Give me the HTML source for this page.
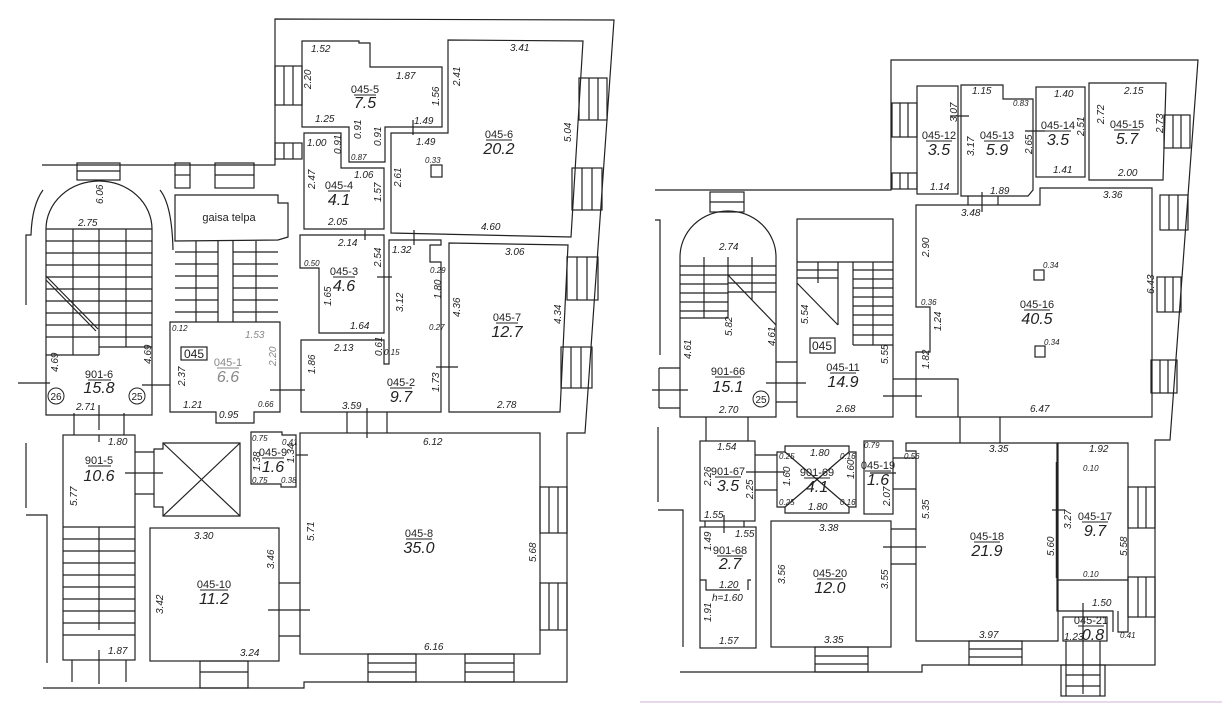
<!DOCTYPE html>
<html><head><meta charset="utf-8"><style>
html,body{margin:0;padding:0;background:#fff;}
svg{display:block;}
text{font-family:"Liberation Sans",sans-serif;fill:#222;}
.d{font-size:10px;font-style:italic;}
.s{font-size:8px;font-style:italic;}
.c{font-size:11px;text-anchor:middle;}
.a{font-size:16px;font-style:italic;text-anchor:middle;}
.g{fill:#888;}
</style></head><body>
<svg width="1222" height="703" viewBox="0 0 1222 703" xmlns="http://www.w3.org/2000/svg">
<g fill="none" stroke="#222" stroke-width="1.2">
<polyline points="42,165 275,165 275,19 614,20 585,433 567,433 567,682 304,682 304,688 43,688"/>
<path d="M43,190 Q32,205 31,235 L26,235 L26,305"/>
<path d="M160,190 Q172,205 173,250"/>
<polyline points="26,443 26,508"/>
<polyline points="26,515 47,515 47,663"/>
<path d="M46,415 L46,229 A53,48 0 0 1 152,229 L152,415 Z"/>
<line x1="46" y1="229" x2="152" y2="229"/>
<line x1="99" y1="229" x2="99" y2="355"/>
<line x1="126" y1="229" x2="126" y2="347"/>
<line x1="73" y1="229" x2="73" y2="355"/>
<path d="M46,241H99M46,253H99M46,265H99M46,277H99M46,289H99M46,301H99M46,313H99M46,325H99M46,337H99M46,355H99"/>
<path d="M99,241H152M99,253H152M99,265H152M99,277H152M99,289H152M99,301H152M99,313H152M99,325H152M99,337H152M99,347H152"/>
<line x1="46" y1="276" x2="98" y2="329"/><line x1="46" y1="280" x2="96" y2="331"/>
<rect x="77" y="163" width="43" height="17"/>
<line x1="77" y1="171" x2="120" y2="171"/>
<rect x="175" y="163" width="15" height="25"/><line x1="175" y1="175" x2="190" y2="175"/>
<rect x="215" y="163" width="39" height="25"/><line x1="215" y1="175" x2="254" y2="175"/>
<polygon points="175,195 278,195 278,203 288,203 288,237 278,240 175,241"/>
<path d="M175,252H218M175,264H218M175,276H218M175,288H218M175,300H218M175,312H218"/>
<line x1="196" y1="241" x2="196" y2="322"/>
<line x1="218" y1="241" x2="218" y2="322"/><line x1="233" y1="241" x2="233" y2="322"/>
<path d="M233,252H278M233,264H278M233,276H278M233,288H278M233,300H278M233,312H278"/>
<line x1="256" y1="241" x2="256" y2="322"/>
<polygon points="170,322 280,322 280,412 254,412 254,423 216,423 216,412 170,412"/>
<rect x="181" y="347" width="26" height="13"/>
<polygon points="302,41 359,41 359,43 370,43 370,67 442,67 442,127 385,127 385,162 349,162 349,127 302,127"/>
<rect x="275" y="66" width="27" height="39"/><line x1="284" y1="66" x2="284" y2="105"/><line x1="293" y1="66" x2="293" y2="105"/>
<rect x="275" y="143" width="27" height="16"/><line x1="284" y1="143" x2="284" y2="159"/><line x1="293" y1="143" x2="293" y2="159"/>
<polygon points="448,40 583,41 571,237 391,233 391,133 448,133"/>
<rect x="431" y="165" width="11" height="12"/>
<rect x="579" y="78" width="28" height="42"/><line x1="589" y1="78" x2="589" y2="120"/><line x1="598" y1="78" x2="598" y2="120"/>
<rect x="572" y="168" width="30" height="42"/><line x1="582" y1="168" x2="582" y2="210"/><line x1="592" y1="168" x2="592" y2="210"/>
<polygon points="304,133 341,133 341,168 384,168 384,229 304,229"/>
<polygon points="300,235 384,235 384,333 319,333 319,268 300,268"/>
<polygon points="389,240 441,240 441,245 430,245 430,262 441,262 441,412 301,412 301,340 384,340 384,364 389,364"/>
<polygon points="449,243 568,245 560,412 449,412"/>
<rect x="567" y="257" width="31" height="43"/><line x1="577" y1="257" x2="577" y2="300"/><line x1="587" y1="257" x2="587" y2="300"/>
<rect x="561" y="347" width="31" height="41"/><line x1="571" y1="347" x2="571" y2="388"/><line x1="581" y1="347" x2="581" y2="388"/>
<line x1="365" y1="230" x2="365" y2="240"/><line x1="377" y1="277" x2="392" y2="277"/>
<line x1="413" y1="120" x2="413" y2="135"/><line x1="414" y1="230" x2="414" y2="245"/>
<line x1="436" y1="367" x2="458" y2="367"/><line x1="270" y1="390" x2="305" y2="390"/>
<line x1="142" y1="385" x2="170" y2="385"/><line x1="18" y1="383" x2="50" y2="383"/>
<line x1="99" y1="405" x2="99" y2="430"/>
<line x1="347" y1="412" x2="347" y2="433"/><line x1="387" y1="412" x2="387" y2="433"/><line x1="367" y1="408" x2="367" y2="438"/>
<line x1="74" y1="413" x2="74" y2="435"/><line x1="124" y1="413" x2="124" y2="435"/>
<rect x="63" y="435" width="72" height="225"/>
<path d="M63,527H135M63,539H135M63,551H135M63,563H135M63,575H135M63,587H135M63,599H135M63,611H135M63,623H135M63,635H135"/>
<line x1="99" y1="527" x2="99" y2="630"/><line x1="99" y1="650" x2="99" y2="684"/><line x1="99" y1="435" x2="99" y2="442"/>
<line x1="72" y1="660" x2="72" y2="682"/><line x1="126" y1="660" x2="126" y2="682"/>
<polygon points="163,443 240,443 240,452 240,507 240,516 163,516 163,507 154,507 154,449 163,449"/>
<line x1="163" y1="443" x2="240" y2="516"/><line x1="240" y1="443" x2="163" y2="516"/>
<line x1="135" y1="452" x2="154" y2="452"/><line x1="135" y1="494" x2="154" y2="494"/><line x1="125" y1="473" x2="163" y2="473"/>
<polygon points="251,432 282,432 282,435 296,435 296,487 281,487 281,484 251,484"/>
<line x1="296" y1="455" x2="308" y2="455"/>
<rect x="150" y="528" width="129" height="133"/>
<rect x="200" y="661" width="48" height="27"/><line x1="200" y1="672" x2="248" y2="672"/>
<line x1="279" y1="583" x2="300" y2="583"/><line x1="279" y1="636" x2="300" y2="636"/><line x1="268" y1="610" x2="310" y2="610"/>
<rect x="300" y="433" width="240" height="221"/>
<rect x="540" y="487" width="27" height="46"/><line x1="549" y1="487" x2="549" y2="533"/><line x1="558" y1="487" x2="558" y2="533"/>
<rect x="540" y="583" width="27" height="47"/><line x1="549" y1="583" x2="549" y2="630"/><line x1="558" y1="583" x2="558" y2="630"/>
<rect x="368" y="654" width="48" height="28"/><line x1="368" y1="663" x2="416" y2="663"/><line x1="368" y1="672" x2="416" y2="672"/>
<rect x="465" y="654" width="49" height="28"/><line x1="465" y1="663" x2="514" y2="663"/><line x1="465" y1="672" x2="514" y2="672"/>

<polyline points="655,190 891,190 891,60 1198,60 1170,440 1155,440 1155,665 922,665 922,672 680,672"/>
<polyline points="655,220 660,220 660,355"/>
<polyline points="658,427 658,502"/><polyline points="658,510 683,510 683,647"/>
<rect x="917" y="86" width="41" height="108"/>
<rect x="892" y="103" width="25" height="34"/><line x1="900" y1="103" x2="900" y2="137"/><line x1="908" y1="103" x2="908" y2="137"/>
<rect x="892" y="173" width="25" height="16"/><line x1="900" y1="173" x2="900" y2="189"/><line x1="908" y1="173" x2="908" y2="189"/>
<polygon points="961,85 1003,85 1003,99 1033,99 1033,190 1028,196 961,196"/>
<rect x="1036" y="87" width="49" height="90"/>
<polygon points="1089,83 1166,83 1163,180 1089,180"/>
<rect x="1164" y="115" width="26" height="33"/><line x1="1173" y1="115" x2="1173" y2="148"/><line x1="1181" y1="115" x2="1181" y2="148"/>
<line x1="950" y1="116" x2="969" y2="116"/><line x1="1025" y1="131" x2="1045" y2="131"/>
<line x1="968" y1="196" x2="968" y2="205"/><line x1="998" y1="196" x2="998" y2="205"/><line x1="982" y1="192" x2="982" y2="212"/>
<polygon points="916,205 1040,205 1040,188 1152,188 1152,417 916,417 916,352 930,352 930,307 916,307"/>
<rect x="1034" y="270" width="10" height="10"/><rect x="1035" y="346" width="10" height="11"/>
<rect x="1160" y="195" width="28" height="35"/><line x1="1169" y1="195" x2="1169" y2="230"/><line x1="1178" y1="195" x2="1178" y2="230"/>
<rect x="1157" y="277" width="24" height="35"/><line x1="1165" y1="277" x2="1165" y2="312"/><line x1="1173" y1="277" x2="1173" y2="312"/>
<rect x="1151" y="360" width="26" height="33"/><line x1="1160" y1="360" x2="1160" y2="393"/><line x1="1168" y1="360" x2="1168" y2="393"/>
<path d="M680,417 L680,257 A48,46 0 0 1 776,257 L776,417 Z"/>
<rect x="710" y="192" width="34" height="20"/><line x1="710" y1="202" x2="744" y2="202"/>
<path d="M680,266H728M680,275H728M680,284H728M680,293H728M680,302H728M680,311H728M680,318H728"/>
<line x1="728" y1="257" x2="728" y2="318"/><line x1="704" y1="257" x2="704" y2="318"/>
<path d="M728,266H776M728,275H776M728,283H776M728,292H776"/>
<line x1="752" y1="257" x2="752" y2="300"/>
<line x1="728" y1="275" x2="776" y2="325"/>
<line x1="652" y1="390" x2="688" y2="390"/><line x1="659" y1="368" x2="680" y2="368"/><line x1="659" y1="408" x2="680" y2="408"/>
<line x1="659" y1="368" x2="659" y2="408"/>
<rect x="797" y="219" width="96" height="198"/>
<line x1="797" y1="262" x2="853" y2="262"/>
<path d="M797,270H838M797,278H838"/><line x1="838" y1="262" x2="838" y2="325"/>
<line x1="818" y1="262" x2="818" y2="283"/>
<line x1="797" y1="283" x2="838" y2="325"/>
<line x1="853" y1="262" x2="853" y2="345"/><line x1="853" y1="345" x2="893" y2="345"/>
<path d="M853,262H893M853,270H893M853,279H893M853,288H893M853,297H893M853,306H893M853,315H893M853,325H893M853,335H893"/>
<line x1="873" y1="262" x2="873" y2="345"/>
<rect x="810" y="338" width="25" height="15"/>
<line x1="776" y1="362" x2="797" y2="362"/><line x1="776" y1="402" x2="797" y2="402"/><line x1="766" y1="383" x2="806" y2="383"/>
<polyline points="893,379 958,379 958,417"/><line x1="883" y1="396" x2="922" y2="396"/>
<line x1="706" y1="417" x2="706" y2="441"/><line x1="748" y1="417" x2="748" y2="441"/>
<line x1="960" y1="417" x2="960" y2="443"/><line x1="1000" y1="417" x2="1000" y2="443"/>
<rect x="700" y="441" width="55" height="80"/>
<rect x="700" y="527" width="56" height="121"/>
<line x1="705" y1="521" x2="705" y2="527"/><line x1="744" y1="521" x2="744" y2="527"/><line x1="724" y1="515" x2="724" y2="533"/>
<polyline points="700,580 706,580 706,590 740,590"/><polyline points="751,580 748,580 748,590"/>
<polygon points="785,446 849,446 849,452 856,452 856,507 849,507 849,513 785,513 785,507 777,507 777,452 785,452"/>
<line x1="785" y1="452" x2="849" y2="507"/><line x1="849" y1="452" x2="785" y2="507"/>
<line x1="755" y1="455" x2="777" y2="455"/><line x1="755" y1="490" x2="777" y2="490"/><line x1="746" y1="472" x2="785" y2="472"/>
<rect x="864" y="441" width="29" height="73"/>
<line x1="893" y1="458" x2="916" y2="458"/><line x1="893" y1="489" x2="916" y2="489"/><line x1="870" y1="473" x2="896" y2="473"/>
<rect x="771" y="521" width="120" height="126"/>
<line x1="891" y1="529" x2="916" y2="529"/><line x1="891" y1="564" x2="916" y2="564"/><line x1="883" y1="547" x2="926" y2="547"/>
<rect x="815" y="647" width="53" height="25"/><line x1="815" y1="656" x2="868" y2="656"/><line x1="815" y1="664" x2="868" y2="664"/>
<polygon points="906,443 1058,443 1058,641 916,641 916,451 906,451"/>
<rect x="969" y="641" width="53" height="24"/><line x1="969" y1="649" x2="1022" y2="649"/><line x1="969" y1="657" x2="1022" y2="657"/>
<polygon points="1057,443 1128,443 1128,580 1057,580"/>
<line x1="1057" y1="462" x2="1057" y2="578" stroke-width="2.5"/><line x1="1052" y1="510" x2="1065" y2="510"/>
<rect x="1128" y="487" width="27" height="41"/><line x1="1138" y1="487" x2="1138" y2="528"/><line x1="1146" y1="487" x2="1146" y2="528"/>
<rect x="1128" y="577" width="27" height="40"/><line x1="1138" y1="577" x2="1138" y2="617"/><line x1="1146" y1="577" x2="1146" y2="617"/>
<polyline points="1057,580 1057,611 1113,611 1113,632"/>
<polyline points="1118,611 1118,632 1128,632 1128,580"/>
<rect x="1063" y="617" width="44" height="24"/>
<rect x="1061" y="665" width="44" height="31"/><line x1="1066" y1="641" x2="1066" y2="696"/><line x1="1100" y1="641" x2="1100" y2="696"/>
<line x1="1066" y1="675" x2="1100" y2="675"/><line x1="1066" y1="686" x2="1100" y2="686"/>
<line x1="1083" y1="603" x2="1083" y2="694"/>
</g>
<line x1="640" y1="702" x2="1222" y2="702" stroke="#e8d8ec" stroke-width="2"/>
<g stroke="#222" fill="none">
<circle cx="56" cy="396" r="8"/><circle cx="137" cy="396" r="8"/><circle cx="761" cy="399" r="8"/>
</g>
<g stroke="#222" stroke-width="1">
<line x1="354" y1="95" x2="376" y2="95"/><line x1="486" y1="140" x2="512" y2="140"/><line x1="328" y1="191" x2="350" y2="191"/>
<line x1="333" y1="277" x2="355" y2="277"/><line x1="390" y1="388" x2="412" y2="388"/><line x1="496" y1="323" x2="518" y2="323"/>
<line x1="217" y1="368" x2="239" y2="368" stroke="#888"/><line x1="88" y1="380" x2="111" y2="380"/><line x1="88" y1="466" x2="111" y2="466"/>
<line x1="262" y1="458" x2="284" y2="458"/><line x1="200" y1="590" x2="228" y2="590"/><line x1="406" y1="539" x2="432" y2="539"/>
<line x1="926" y1="141" x2="952" y2="141"/><line x1="984" y1="141" x2="1010" y2="141"/><line x1="1045" y1="131" x2="1071" y2="131"/>
<line x1="1114" y1="130" x2="1140" y2="130"/><line x1="1024" y1="310" x2="1050" y2="310"/><line x1="715" y1="377" x2="741" y2="377"/>
<line x1="830" y1="373" x2="856" y2="373"/><line x1="715" y1="477" x2="741" y2="477"/><line x1="804" y1="478" x2="830" y2="478"/>
<line x1="865" y1="471" x2="891" y2="471"/><line x1="717" y1="556" x2="743" y2="556"/><line x1="817" y1="579" x2="843" y2="579"/>
<line x1="974" y1="542" x2="1000" y2="542"/><line x1="1082" y1="522" x2="1108" y2="522"/><line x1="1078" y1="626" x2="1104" y2="626"/>
</g>
<text class="c" x="365" y="93">045-5</text><text class="a" x="365" y="108">7.5</text>
<text class="c" x="499" y="138">045-6</text><text class="a" x="499" y="154">20.2</text>
<text class="c" x="339" y="189">045-4</text><text class="a" x="339" y="205">4.1</text>
<text class="c" x="344" y="275">045-3</text><text class="a" x="344" y="291">4.6</text>
<text class="c" x="401" y="386">045-2</text><text class="a" x="401" y="402">9.7</text>
<text class="c" x="507" y="321">045-7</text><text class="a" x="507" y="337">12.7</text>
<text class="c g" x="228" y="366">045-1</text><text class="a g" x="228" y="382">6.6</text>
<text class="c" x="99" y="378">901-6</text><text class="a" x="99" y="393">15.8</text>
<text class="c" x="194" y="358" style="font-size:12px">045</text>
<text class="c" x="56" y="400" style="font-size:10px">26</text><text class="c" x="137" y="400" style="font-size:10px">25</text>
<text class="c" x="229" y="221" style="font-size:11px">gaisa telpa</text>
<text class="c" x="99" y="464">901-5</text><text class="a" x="99" y="481">10.6</text>
<text class="c" x="273" y="456">045-9</text><text class="a" x="273" y="472">1.6</text>
<text class="c" x="419" y="537">045-8</text><text class="a" x="419" y="553">35.0</text>
<text class="c" x="214" y="588">045-10</text><text class="a" x="214" y="604">11.2</text>
<g class="d">
<text x="311" y="52">1.52</text><text x="396" y="79">1.87</text><text x="315" y="122">1.25</text><text x="414" y="124">1.49</text>
<text x="416" y="145">1.49</text><text x="307" y="146">1.00</text><text x="354" y="178">1.06</text><text x="328" y="225">2.05</text>
<text x="338" y="246">2.14</text><text x="510" y="51">3.41</text><text x="481" y="230">4.60</text><text x="505" y="255">3.06</text>
<text x="497" y="408">2.78</text><text x="392" y="253">1.32</text><text x="350" y="329">1.64</text><text x="334" y="351">2.13</text>
<text x="342" y="409">3.59</text><text x="78" y="226">2.75</text><text x="76" y="410">2.71</text><text x="183" y="408">1.21</text>
<text x="219" y="418">0.95</text><text x="108" y="445">1.80</text><text x="423" y="445">6.12</text><text x="194" y="539">3.30</text>
<text x="240" y="656">3.24</text><text x="108" y="654">1.87</text><text x="424" y="650">6.16</text>
<text class="g" x="245" y="338">1.53</text>
</g>
<g class="s">
<text x="425" y="163">0.33</text><text x="351" y="160">0.87</text><text x="258" y="407">0.66</text><text x="172" y="331">0.12</text>
<text x="304" y="266">0.50</text><text x="384" y="355">0.15</text><text x="430" y="273">0.29</text><text x="429" y="330">0.27</text>
<text x="252" y="441">0.75</text><text x="252" y="483">0.75</text><text x="281" y="483">0.38</text><text x="282" y="445">0.41</text>
</g>
<g class="d">
<text transform="translate(311,89) rotate(-90)">2.20</text>
<text transform="translate(439,106) rotate(-90)">1.56</text>
<text transform="translate(361,139) rotate(-90)">0.91</text>
<text transform="translate(381,146) rotate(-90)">0.91</text>
<text transform="translate(341,154) rotate(-90)">0.91</text>
<text transform="translate(315,189) rotate(-90)">2.47</text>
<text transform="translate(381,202) rotate(-90)">1.57</text>
<text transform="translate(401,187) rotate(-90)">2.61</text>
<text transform="translate(460,86) rotate(-90)">2.41</text>
<text transform="translate(571,142) rotate(-90)">5.04</text>
<text transform="translate(460,317) rotate(-90)">4.36</text>
<text transform="translate(561,324) rotate(-90)">4.34</text>
<text transform="translate(381,267) rotate(-90)">2.54</text>
<text transform="translate(403,312) rotate(-90)">3.12</text>
<text transform="translate(441,299) rotate(-90)">1.80</text>
<text transform="translate(331,306) rotate(-90)">1.65</text>
<text transform="translate(315,374) rotate(-90)">1.86</text>
<text transform="translate(439,392) rotate(-90)">1.73</text>
<text transform="translate(103,204) rotate(-90)">6.06</text>
<text transform="translate(58,372) rotate(-90)">4.69</text>
<text transform="translate(151,364) rotate(-90)">4.69</text>
<text transform="translate(185,386) rotate(-90)">2.37</text>
<text class="g" transform="translate(276,366) rotate(-90)">2.20</text>
<text transform="translate(77,506) rotate(-90)">5.77</text>
<text transform="translate(260,471) rotate(-90)">1.38</text>
<text transform="translate(294,463) rotate(-90)">1.34</text>
<text transform="translate(314,541) rotate(-90)">5.71</text>
<text transform="translate(536,562) rotate(-90)">5.68</text>
<text transform="translate(274,569) rotate(-90)">3.46</text>
<text transform="translate(163,614) rotate(-90)">3.42</text>
<text transform="translate(382,356) rotate(-90)">0.61</text>
</g>
<text class="c" x="939" y="139">045-12</text><text class="a" x="939" y="155">3.5</text>
<text class="c" x="997" y="139">045-13</text><text class="a" x="997" y="155">5.9</text>
<text class="c" x="1058" y="129">045-14</text><text class="a" x="1058" y="145">3.5</text>
<text class="c" x="1127" y="128">045-15</text><text class="a" x="1127" y="144">5.7</text>
<text class="c" x="1037" y="308">045-16</text><text class="a" x="1037" y="324">40.5</text>
<text class="c" x="728" y="375">901-66</text><text class="a" x="728" y="392">15.1</text>
<text class="c" x="843" y="371">045-11</text><text class="a" x="843" y="387">14.9</text>
<text class="c" x="822" y="350" style="font-size:12px">045</text>
<text class="c" x="761" y="403" style="font-size:10px">25</text>
<text class="c" x="728" y="475">901-67</text><text class="a" x="728" y="491">3.5</text>
<text class="c" x="817" y="476">901-69</text><text class="a" x="817" y="492">4.1</text>
<text class="c" x="878" y="469">045-19</text><text class="a" x="878" y="485">1.6</text>
<text class="c" x="730" y="554">901-68</text><text class="a" x="730" y="569">2.7</text>
<text class="c" x="830" y="577">045-20</text><text class="a" x="830" y="593">12.0</text>
<text class="c" x="987" y="540">045-18</text><text class="a" x="987" y="556">21.9</text>
<text class="c" x="1095" y="520">045-17</text><text class="a" x="1095" y="536">9.7</text>
<text class="c" x="1091" y="624">045-21</text><text class="a" x="1093" y="640">0.8</text>
<g class="d">
<text x="930" y="190">1.14</text><text x="972" y="94">1.15</text><text x="990" y="194">1.89</text><text x="961" y="216">3.48</text>
<text x="1054" y="97">1.40</text><text x="1053" y="173">1.41</text><text x="1124" y="94">2.15</text><text x="1118" y="176">2.00</text>
<text x="1103" y="198">3.36</text><text x="1030" y="412">6.47</text><text x="719" y="250">2.74</text><text x="719" y="413">2.70</text>
<text x="836" y="412">2.68</text><text x="717" y="450">1.54</text><text x="704" y="518">1.55</text><text x="735" y="537">1.55</text>
<text x="810" y="456">1.80</text><text x="808" y="510">1.80</text><text x="719" y="588">1.20</text><text x="712" y="601">h=1.60</text>
<text x="719" y="644">1.57</text><text x="819" y="531">3.38</text><text x="824" y="643">3.35</text><text x="989" y="452">3.35</text>
<text x="979" y="638">3.97</text><text x="1089" y="452">1.92</text><text x="1092" y="606">1.50</text><text x="1064" y="640">1.23</text>
</g>
<g class="s">
<text x="1013" y="106">0.83</text><text x="921" y="305">0.36</text><text x="1043" y="268">0.34</text><text x="1044" y="345">0.34</text>
<text x="864" y="448">0.79</text><text x="1083" y="471">0.10</text><text x="1083" y="577">0.10</text><text x="1120" y="638">0.41</text>
<text x="779" y="459">0.25</text><text x="779" y="505">0.25</text><text x="840" y="459">0.16</text><text x="840" y="505">0.16</text>
<text x="904" y="459">0.56</text>
</g>
<g class="d">
<text transform="translate(957,122) rotate(-90)">3.07</text>
<text transform="translate(974,156) rotate(-90)">3.17</text>
<text transform="translate(1032,154) rotate(-90)">2.65</text>
<text transform="translate(1084,136) rotate(-90)">2.51</text>
<text transform="translate(1104,124) rotate(-90)">2.72</text>
<text transform="translate(1163,133) rotate(-90)">2.73</text>
<text transform="translate(929,257) rotate(-90)">2.90</text>
<text transform="translate(1154,294) rotate(-90)">6.43</text>
<text transform="translate(941,331) rotate(-90)">1.24</text>
<text transform="translate(929,369) rotate(-90)">1.82</text>
<text transform="translate(732,336) rotate(-90)">5.82</text>
<text transform="translate(775,346) rotate(-90)">4.61</text>
<text transform="translate(691,359) rotate(-90)">4.61</text>
<text transform="translate(808,324) rotate(-90)">5.54</text>
<text transform="translate(888,364) rotate(-90)">5.55</text>
<text transform="translate(711,486) rotate(-90)">2.26</text>
<text transform="translate(753,499) rotate(-90)">2.25</text>
<text transform="translate(790,486) rotate(-90)">1.60</text>
<text transform="translate(854,479) rotate(-90)">1.60</text>
<text transform="translate(890,506) rotate(-90)">2.07</text>
<text transform="translate(711,551) rotate(-90)">1.49</text>
<text transform="translate(711,622) rotate(-90)">1.91</text>
<text transform="translate(785,584) rotate(-90)">3.56</text>
<text transform="translate(888,589) rotate(-90)">3.55</text>
<text transform="translate(929,519) rotate(-90)">5.35</text>
<text transform="translate(1054,556) rotate(-90)">5.60</text>
<text transform="translate(1071,529) rotate(-90)">3.27</text>
<text transform="translate(1127,556) rotate(-90)">5.58</text>
</g>
</svg>
</body></html>
